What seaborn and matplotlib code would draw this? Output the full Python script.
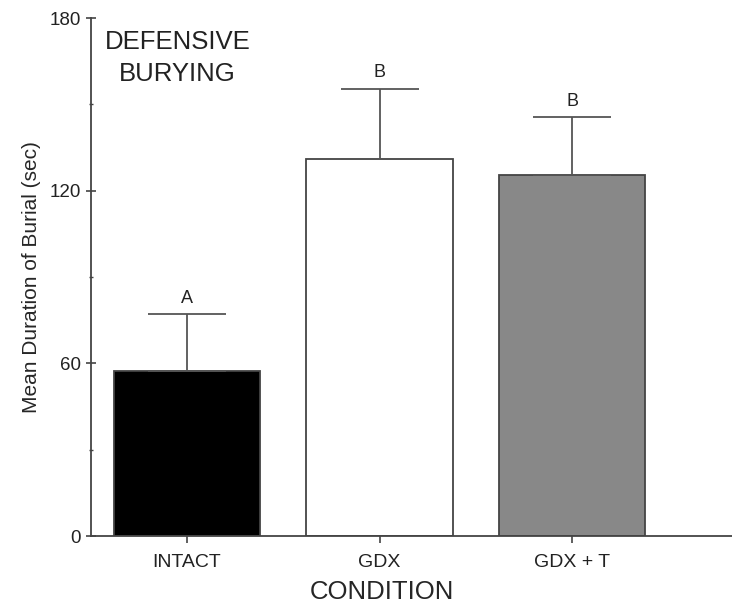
import pandas as pd
import matplotlib
matplotlib.use("Agg")
import matplotlib.pyplot as plt
import seaborn as sns
from matplotlib.ticker import MultipleLocator

# Mean duration of burial per condition
conditions = ["INTACT", "GDX", "GDX + T"]
mean_burial = [57.5, 131, 125.5]
sem_burial = [19.5, 24.5, 20]
group_letters = ["A", "B", "B"]
bar_colors = ["#000000", "#ffffff", "#888888"]

df = pd.DataFrame({"Condition": conditions, "Burial": mean_burial})

sns.set_style("ticks")
plt.rcParams["font.family"] = ["Liberation Sans", "DejaVu Sans"]

fig = plt.figure(figsize=(7.32, 6.05), dpi=100)
ax = fig.add_axes([0.124, 0.114, 0.876, 0.856])

sns.barplot(data=df, x="Condition", y="Burial", hue="Condition", palette=bar_colors,
            legend=False, errorbar=None, width=0.76, edgecolor="#444444",
            linewidth=1.3, ax=ax)

# upward-only error bars
xpos = range(len(conditions))
ax.errorbar(xpos, mean_burial, yerr=[[0] * len(sem_burial), sem_burial], fmt="none",
            ecolor="#555555", elinewidth=1.3, capsize=28, capthick=1.3, zorder=3)

for x, m, s, lab in zip(xpos, mean_burial, sem_burial, group_letters):
    ax.text(x, m + s + 2.5, lab, ha="center", va="bottom", fontsize=13, color="#222222")

ax.set_ylim(0, 180)
ax.set_xlim(-0.5, 2.83)
ax.yaxis.set_major_locator(MultipleLocator(60))
ax.yaxis.set_minor_locator(MultipleLocator(30))

ax.set_ylabel("Mean Duration of Burial (sec)", fontsize=15, labelpad=6)
ax.set_xlabel("CONDITION", fontsize=18.5)
ax.xaxis.set_label_coords(0.454, -0.085)
ax.tick_params(axis="y", which="major", direction="inout", length=7, width=1.2,
               labelsize=13.5, colors="#444444", labelcolor="#222222")
ax.tick_params(axis="y", which="minor", direction="inout", length=3, width=1,
               colors="#444444")
ax.tick_params(axis="x", direction="out", length=5, width=1.2, labelsize=14,
               colors="#444444", labelcolor="#222222", pad=8)

for side in ["top", "right"]:
    ax.spines[side].set_visible(False)
for side in ["left", "bottom"]:
    ax.spines[side].set_color("#444444")
    ax.spines[side].set_linewidth(1.3)

ax.text(0.135, 0.978, "DEFENSIVE\nBURYING", transform=ax.transAxes, ha="center",
        va="top", fontsize=18.5, linespacing=1.45, color="#222222")

fig.savefig("out.png", dpi=100)
